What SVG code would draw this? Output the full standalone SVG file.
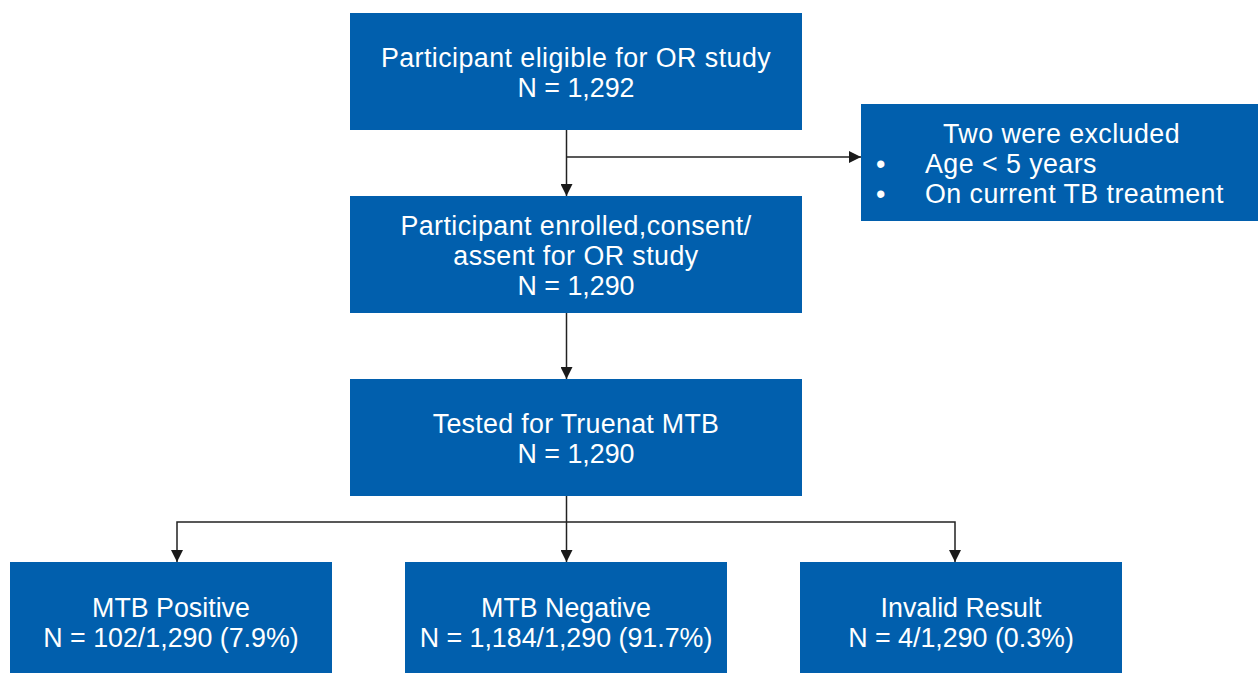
<svg xmlns="http://www.w3.org/2000/svg" width="1258" height="673" viewBox="0 0 1258 673">
<defs>
<style>
.box{fill:#015FAD;}
.t{font-family:"Liberation Sans",Arial,sans-serif;font-size:26.8px;fill:#FFFFFF;text-anchor:middle;}
.tl{font-family:"Liberation Sans",Arial,sans-serif;font-size:26.8px;fill:#FFFFFF;}
.ls{letter-spacing:0.45px;}
.c{fill:none;stroke:#222222;stroke-width:1.5;}
</style>
<marker id="ah" viewBox="0 0 10 10" refX="10" refY="5" markerWidth="13" markerHeight="12" markerUnits="userSpaceOnUse" orient="auto">
<path d="M0,0 L10,5 L0,10 z" fill="#1a1a1a"/>
</marker>
</defs>
<rect width="1258" height="673" fill="#FFFFFF"/>
<g id="connectors">
<line class="c" x1="566.5" y1="130" x2="566.5" y2="196" marker-end="url(#ah)"/>
<line class="c" x1="566.5" y1="157" x2="861" y2="157" marker-end="url(#ah)"/>
<line class="c" x1="566.5" y1="313" x2="566.5" y2="379" marker-end="url(#ah)"/>
<line class="c" x1="566.5" y1="496" x2="566.5" y2="562" marker-end="url(#ah)"/>
<polyline class="c" points="566.5,522 177,522 177,562" marker-end="url(#ah)"/>
<polyline class="c" points="566.5,522 955,522 955,562" marker-end="url(#ah)"/>
</g>
<g id="eligible">
<rect class="box" x="350" y="13" width="452" height="117"/>
<text class="t"><tspan class="ls" x="576" y="67">Participant eligible for OR study</tspan><tspan x="576" y="97">N = 1,292</tspan></text>
</g>
<g id="excluded">
<rect class="box" x="861" y="104" width="397" height="117"/>
<text class="tl"><tspan class="ls" x="943" y="143">Two were excluded</tspan><tspan x="876" y="173">•</tspan><tspan class="ls" x="925" y="173">Age &lt; 5 years</tspan><tspan x="876" y="203">•</tspan><tspan class="ls" x="925" y="203">On current TB treatment</tspan></text>
</g>
<g id="enrolled">
<rect class="box" x="350" y="196" width="452" height="117"/>
<text class="t"><tspan class="ls" x="576" y="235">Participant enrolled,consent/</tspan><tspan class="ls" x="576" y="265">assent for OR study</tspan><tspan x="576" y="295">N = 1,290</tspan></text>
</g>
<g id="tested">
<rect class="box" x="350" y="379" width="452" height="117"/>
<text class="t"><tspan x="576" y="433" style="letter-spacing:0.3px">Tested for Truenat MTB</tspan><tspan x="576" y="463">N = 1,290</tspan></text>
</g>
<g id="positive">
<rect class="box" x="10" y="562" width="322" height="111"/>
<text class="t"><tspan x="171" y="617">MTB Positive</tspan><tspan x="171" y="647">N = 102/1,290 (7.9%)</tspan></text>
</g>
<g id="negative">
<rect class="box" x="405" y="562" width="322" height="111"/>
<text class="t"><tspan x="566" y="617">MTB Negative</tspan><tspan x="566" y="647">N = 1,184/1,290 (91.7%)</tspan></text>
</g>
<g id="invalid">
<rect class="box" x="800" y="562" width="322" height="111"/>
<text class="t"><tspan x="961" y="617">Invalid Result</tspan><tspan x="961" y="647">N = 4/1,290 (0.3%)</tspan></text>
</g>
</svg>
